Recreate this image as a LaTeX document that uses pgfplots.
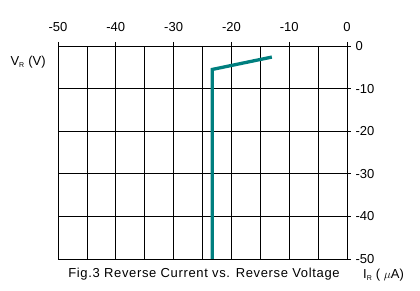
\documentclass[border=0pt]{standalone}
\usepackage{pgfplots}
\pgfplotsset{compat=1.18}
\usepackage{fontspec}
\setmainfont{Liberation Sans}
\definecolor{teal1}{HTML}{007F7F}
\begin{document}
\begin{tikzpicture}
\useasboundingbox (0pt,0pt) rectangle (420pt,291pt);
\begin{axis}[
  at={(58pt,32pt)}, anchor=south west,
  scale only axis, width=289pt, height=213pt,
  xmin=-50, xmax=0, ymin=-50, ymax=0,
  xtick={-50,-40,...,0}, minor xtick={-45,-35,...,-5},
  ytick={-50,-40,...,0},
  xticklabel pos=upper, yticklabel pos=right,
  tick align=outside, major tick length=4pt, minor tick length=0pt,
  xtick pos=upper, ytick pos=right,
  grid=both, major grid style={black, line width=0.7pt}, minor grid style={black, line width=0.7pt},
  axis line style={black, line width=0.7pt},
  tick style={black, line width=0.7pt},
  /pgf/number format/assume math mode=true,
  ticklabel style={font=\fontsize{13}{13}\selectfont},
  xticklabel style={yshift=7pt},
  yticklabel style={xshift=1pt},
]
\addplot[teal1, line width=3.3pt] coordinates {(-23.3,-50) (-23.3,-5.5) (-13,-2.6)};
\end{axis}
\node[anchor=west, font=\fontsize{13}{13}\selectfont] at (7pt,229pt) {V\textsubscript{\fontsize{7}{7}\selectfont R} (V)};
\node[anchor=center, font=\fontsize{13}{13}\selectfont\addfontfeature{LetterSpace=5}] at (204pt,17pt) {Fig.3 Reverse Current vs. Reverse Voltage};
\node[anchor=west, font=\fontsize{13}{13}\selectfont, inner sep=1pt] at (362pt,16pt) {I\textsubscript{\fontsize{7}{7}\selectfont R} ( $\mu$A)};
\end{tikzpicture}
\end{document}
